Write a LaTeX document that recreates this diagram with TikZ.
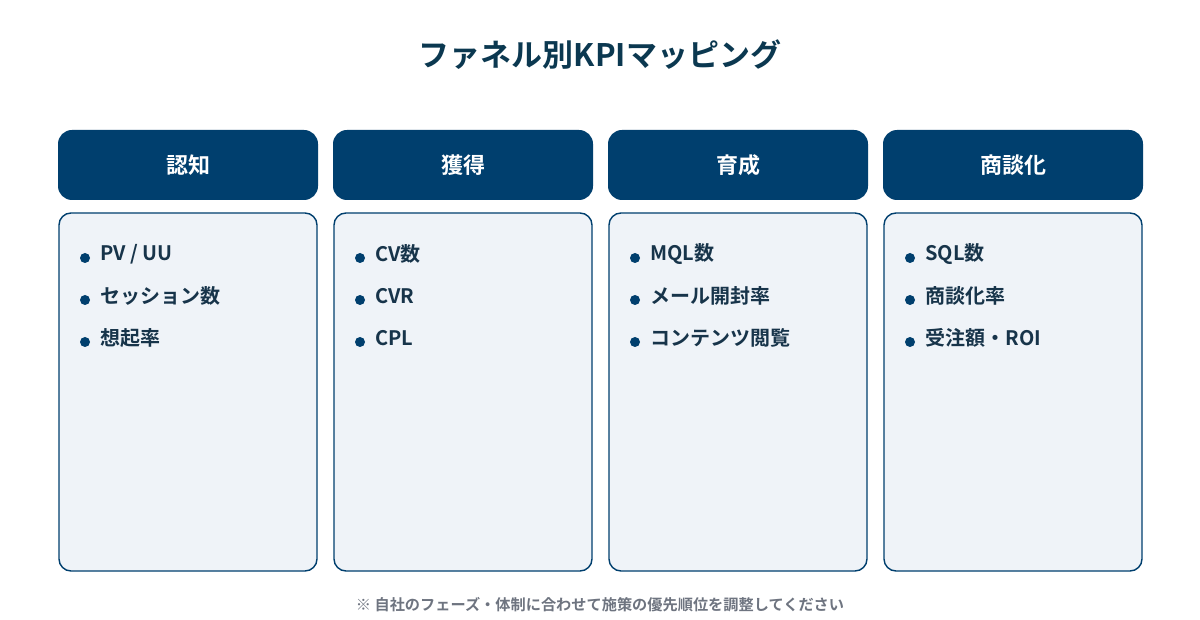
\documentclass[tikz,border=0pt]{standalone}
\usepackage{fontspec}
\setmainfont{Noto Sans CJK JP}[BoldFont={Noto Sans CJK JP Bold}]
\usetikzlibrary{positioning}

\definecolor{navy}{HTML}{003F6E}
\definecolor{titleink}{HTML}{0B3850}
\definecolor{itemink}{HTML}{17344A}
\definecolor{boxfill}{HTML}{EFF3F8}
\definecolor{noteink}{HTML}{6E7480}

\tikzset{
  headbox/.style={fill=navy, rounded corners=7pt, minimum width=130pt, minimum height=35pt, text=white, font=\bfseries\fontsize{11}{13}\selectfont},
  bodybox/.style={fill=boxfill, draw=navy, line width=0.7pt, rounded corners=6pt, minimum width=129pt, minimum height=179pt},
  dot/.style={circle, fill=navy, inner sep=0pt, minimum size=5pt},
  item/.style={anchor=west, inner sep=0pt, text=itemink, font=\bfseries\fontsize{10}{12}\selectfont},
}

\begin{document}
\begin{tikzpicture}[x=0.5pt, y=-0.5pt]
    % Canvas of 1200 x 620 px
    \useasboundingbox[fill=white] (0,0) rectangle (1200,620);

    % Title
    \node[text=titleink, font=\bfseries\fontsize{15.5}{18}\selectfont] (title) at (600,55) {ファネル別KPIマッピング};

    % Headers and content boxes for the four stages
    \foreach \i/\stage in {0/認知, 1/獲得, 2/育成, 3/商談化} {
        \node[headbox] (head\i) at (188+275*\i,165) {\stage};
        \node[bodybox] (body\i) at (188+275*\i,392) {};
    }

    % Bullets of every box
    \foreach \i in {0,...,3} {
        \foreach \j/\y in {a/258, b/300, c/342} {
            \node[dot] (dot\i\j) at (85+275*\i,\y) {};
        }
    }

    % Items
    \node[item] (txt0a) at (100,254) {PV / UU};
    \node[item] (txt0b) at (100,296) {セッション数};
    \node[item] (txt0c) at (100,338) {想起率};

    \node[item] (txt1a) at (375,254) {CV数};
    \node[item] (txt1b) at (375,296) {CVR};
    \node[item] (txt1c) at (375,338) {CPL};

    \node[item] (txt2a) at (650,254) {MQL数};
    \node[item] (txt2b) at (650,296) {メール開封率};
    \node[item] (txt2c) at (650,338) {コンテンツ閲覧};

    \node[item] (txt3a) at (925,254) {SQL数};
    \node[item] (txt3b) at (925,296) {商談化率};
    \node[item] (txt3c) at (925,338) {受注額・ROI};

    % Footnote
    \node[text=noteink, font=\bfseries\fontsize{7.6}{9}\selectfont] (note) at (600,605) {※ 自社のフェーズ・体制に合わせて施策の優先順位を調整してください};
\end{tikzpicture}
\end{document}
